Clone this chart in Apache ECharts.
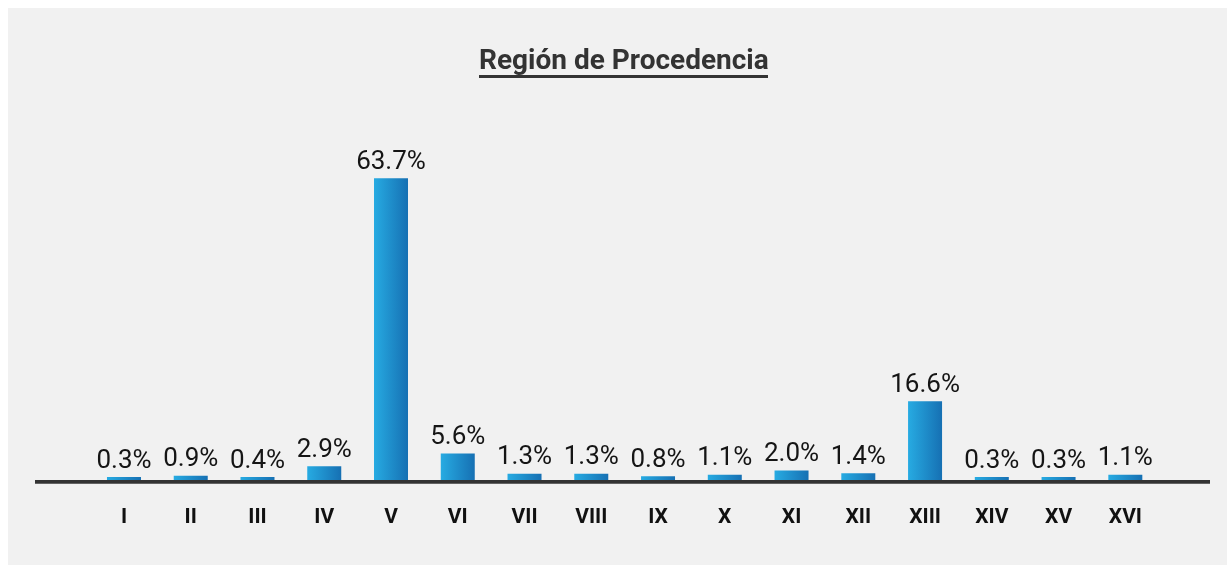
<!DOCTYPE html>
<html>
<head>
<meta charset="utf-8">
<script src="https://cdn.jsdelivr.net/npm/echarts@6/dist/echarts.min.js"></script>
<style>
  html, body { margin: 0; padding: 0; background: #fff; }
  #box { position: absolute; left: 8px; top: 8px; width: 1219px; height: 557px; background: #f1f1f1; }
  #chart { width: 1219px; height: 557px; }
</style>
</head>
<body>
<div id="box"><div id="chart"></div></div>
<script>
// regiones (números romanos) y porcentaje de procedencia
const regiones = ['I', 'II', 'III', 'IV', 'V', 'VI', 'VII', 'VIII', 'IX', 'X', 'XI', 'XII', 'XIII', 'XIV', 'XV', 'XVI']
const porcentajes = [0.3, 0.9, 0.4, 2.9, 63.7, 5.6, 1.3, 1.3, 0.8, 1.1, 2.0, 1.4, 16.6, 0.3, 0.3, 1.1]

const font = 'Roboto, "DejaVu Sans Condensed", sans-serif'

const chart = echarts.init(document.getElementById('chart'))

const option = {
  backgroundColor: 'transparent',
  animation: false,
  title: {
    text: 'Región de Procedencia',
    left: 466,
    top: 35,
    textStyle: { fontFamily: font, fontWeight: 'bold', fontSize: 28, color: '#333' }
  },
  graphic: [
    // subrayado del título
    { type: 'rect', shape: { x: 471, y: 67, width: 289, height: 3 }, style: { fill: '#333' } },
    // línea base larga
    { type: 'rect', shape: { x: 27, y: 472, width: 1175, height: 3.7 }, style: { fill: '#333' }, z: 10 }
  ],
  grid: { left: 82.6, right: 68.3, top: 93, bottom: 85 },
  xAxis: {
    type: 'category',
    data: regiones,
    axisLine: { show: false },
    axisTick: { show: false },
    axisLabel: { fontFamily: font, fontWeight: 'bold', fontSize: 21, color: '#111', margin: 27 }
  },
  yAxis: {
    type: 'value',
    min: 0,
    max: 80,
    show: false,
    splitLine: { show: false }
  },
  series: [{
    type: 'bar',
    data: porcentajes,
    barWidth: 34,
    barMinHeight: 3,
    itemStyle: {
      color: new echarts.graphic.LinearGradient(0, 0, 1, 0, [
        { offset: 0, color: '#27abe2' },
        { offset: 1, color: '#1670b3' }
      ])
    },
    label: {
      show: true,
      position: 'top',
      distance: 3,
      fontFamily: font,
      fontSize: 26,
      color: '#151515',
      formatter: p => p.value.toFixed(1) + '%'
    }
  }]
}

chart.setOption(option)
</script>
</body>
</html>
